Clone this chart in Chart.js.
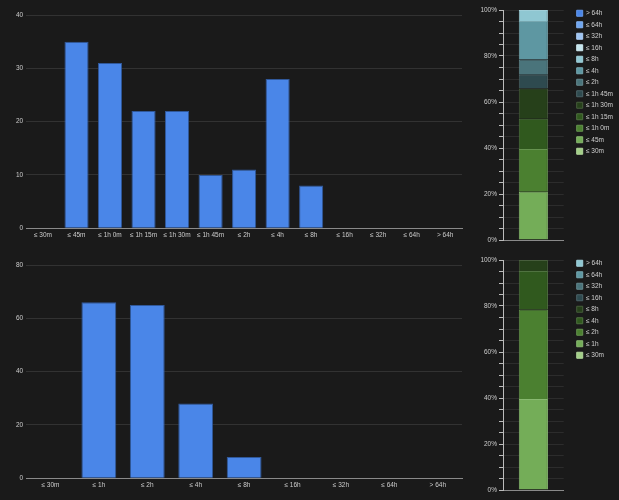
<!DOCTYPE html>
<html>
<head>
<meta charset="utf-8">
<script src="https://cdn.jsdelivr.net/npm/chart.js@4.4.1/dist/chart.umd.min.js"></script>
<style>
  html, body { margin: 0; padding: 0; background: #1a1a1a; }
  body { width: 619px; height: 500px; position: relative; overflow: hidden; }
  .box { position: absolute; }
</style>
</head>
<body>
<div class="box" style="left:0;top:0;width:466px;height:245px"><canvas id="topBars"></canvas></div>
<div class="box" style="left:300px;top:0;width:323px;height:250px"><canvas id="topShare"></canvas></div>
<div class="box" style="left:0;top:250px;width:466px;height:245px"><canvas id="bottomBars"></canvas></div>
<div class="box" style="left:300px;top:250px;width:323px;height:250px"><canvas id="bottomShare"></canvas></div>
<script>
// buckets and counts
const topLabels = ['≤ 30m', '≤ 45m', '≤ 1h 0m', '≤ 1h 15m', '≤ 1h 30m', '≤ 1h 45m', '≤ 2h', '≤ 4h', '≤ 8h', '≤ 16h', '≤ 32h', '≤ 64h', '> 64h']
const topCounts = [0, 35, 31, 22, 22, 10, 11, 28, 8, 0, 0, 0, 0]
const topTicks = [0, 10, 20, 30, 40]

const bottomLabels = ['≤ 30m', '≤ 1h', '≤ 2h', '≤ 4h', '≤ 8h', '≤ 16h', '≤ 32h', '≤ 64h', '> 64h']
const bottomCounts = [0, 66, 65, 28, 8, 0, 0, 0, 0]
const bottomTicks = [0, 20, 40, 60, 80]

// one colour per bucket, shortest first
const palette = ['#a3cf88', '#74ad58', '#4b8030', '#30591e', '#26401a', '#2e4a4f', '#4a747b', '#5e97a2', '#8fc7d2', '#c6e6ee', '#9ec4f2', '#6fa6f0', '#4a86e8']

Chart.defaults.font.family = "'Liberation Sans', Arial, sans-serif"
Chart.defaults.font.size = 6.5
Chart.defaults.color = '#cccccc'
Chart.defaults.animation = false

const lighten = (hex, amt) => {
    const n = parseInt(hex.slice(1), 16)
    const mix = c => Math.round(c + (255 - c) * amt)
    return 'rgb(' + mix(n >> 16) + ',' + mix((n >> 8) & 255) + ',' + mix(n & 255) + ')'
}

const barChart = (id, labels, counts, ticks) => {
    new Chart(document.getElementById(id), {
        type: 'bar',
        data: {
            labels: labels,
            datasets: [{
                data: counts,
                backgroundColor: '#4a86e8',
                borderColor: '#30589a',
                borderWidth: 1,
            }]
        },
        options: {
            responsive: true,
            maintainAspectRatio: false,
            layout: { padding: { left: 13, right: 4, top: 15, bottom: 3 } },
            plugins: { legend: { display: false }, tooltip: { enabled: false } },
            scales: {
                x: {
                    grid: { display: false, drawTicks: false },
                    border: { color: '#8a8a8a' },
                    ticks: { maxRotation: 0, autoSkip: false, padding: 3 },
                },
                y: {
                    min: ticks[0],
                    max: ticks[ticks.length - 1],
                    afterBuildTicks: s => { s.ticks = ticks.map(v => ({ value: v })) },
                    grid: { color: '#323232', drawTicks: false },
                    border: { display: false },
                    ticks: { padding: 3 },
                },
            },
        }
    })
}

// 100% stacked column, one dataset per bucket
// rightPad keeps both legends at the same x whatever their label width
const shareChart = (id, labels, counts, rightPad) => {
    const total = counts.reduce((a, b) => a + b, 0)
    new Chart(document.getElementById(id), {
        type: 'bar',
        data: {
            labels: [''],
            datasets: labels.map((l, i) => ({
                label: l,
                data: [counts[i] / total * 100],
                backgroundColor: palette[i],
                borderColor: lighten(palette[i], 0.15),
                borderWidth: 1,
                categoryPercentage: 0.8,
                barPercentage: 0.6,
            }))
        },
        options: {
            responsive: true,
            maintainAspectRatio: false,
            layout: { padding: { left: 0, right: rightPad, top: 5, bottom: 10 } },
            plugins: {
                tooltip: { enabled: false },
                legend: {
                    position: 'right',
                    align: 'start',
                    reverse: true,
                    labels: { boxWidth: 6, boxHeight: 6, padding: 5, color: '#d0d0d0' },
                },
            },
            scales: {
                x: {
                    stacked: true,
                    grid: { display: false, drawTicks: false },
                    border: { color: '#8a8a8a' },
                    ticks: { display: false },
                },
                y: {
                    stacked: true,
                    min: 0,
                    max: 100,
                    ticks: {
                        stepSize: 5,
                        padding: 2,
                        callback: v => v % 20 === 0 ? v + '%' : '',
                    },
                    grid: { color: '#2c2c2c', tickColor: '#bbbbbb', tickLength: 4 },
                    border: { color: '#bbbbbb' },
                    afterFit: s => { s.width = 203; s.paddingTop = 10 },
                },
                gap: {
                    axis: 'y',
                    type: 'linear',
                    position: 'right',
                    display: true,
                    grid: { display: false, drawTicks: false },
                    border: { display: false },
                    ticks: { display: false },
                    afterFit: s => { s.width = 8 },
                },
            },
        }
    })
}

barChart('topBars', topLabels, topCounts, topTicks)
shareChart('topShare', topLabels, topCounts, 0)
barChart('bottomBars', bottomLabels, bottomCounts, bottomTicks)
shareChart('bottomShare', bottomLabels, bottomCounts, 9)
</script>
</body>
</html>
